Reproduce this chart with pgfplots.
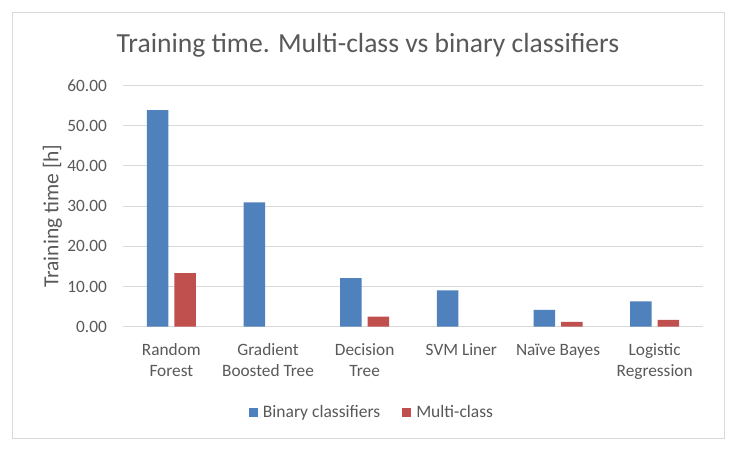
\documentclass[border=0pt]{standalone}
\usepackage{pgfplots}
\pgfplotsset{compat=1.18}
\usepackage{fontspec}
\setmainfont{Carlito}
\definecolor{cblue}{HTML}{4F81BD}
\definecolor{cred}{HTML}{C0504D}
\definecolor{ctext}{HTML}{595959}
\definecolor{cgrid}{HTML}{D9D9D9}
\begin{document}
\begin{tikzpicture}[x=1pt,y=1pt]
\fill[white] (0,0) rectangle (736,451);
\draw[cgrid, line width=1pt] (12,12.5) rectangle (724,438.3);
\begin{axis}[
  at={(123pt,124.3pt)}, anchor=south west,
  scale only axis, width=580pt, height=241.4pt,
  xmin=-0.5, xmax=5.5, ymin=0, ymax=60,
  ybar=6pt, bar width=21.5pt,
  xtick={0,1,2,3,4,5},
  xticklabels={{Random\\Forest},{Gradient\\Boosted Tree},{Decision\\Tree},{SVM Liner},{Naïve Bayes},{Logistic\\Regression}},
  ytick={0,10,20,30,40,50,60},
  ymajorgrids, grid style={cgrid, line width=0.9pt},
  axis line style={draw=none},
  major tick length=0pt, tick style={draw=none},
  /pgf/number format/assume math mode=true,
  yticklabel={\pgfmathprintnumber[fixed,fixed zerofill,precision=2]{\tick}},
  yticklabel style={anchor=east, inner sep=0pt, xshift=-16pt, font=\fontsize{17.3}{20}\selectfont, text=ctext},
  xticklabel style={anchor=north, align=center, inner sep=0pt, yshift=-17pt, font=\fontsize{17.3}{21}\selectfont, text=ctext},
  ylabel={Training time [h]},
  ylabel style={at={(axis description cs:-0.1216,0.4586)}, anchor=center, font=\fontsize{21.5}{24}\selectfont, text=ctext},
  title={Training time. Multi-class vs binary classifiers},
  title style={at={(axis description cs:0.4224,1.110)}, anchor=base, font=\fontsize{27.6}{32}\selectfont, text=ctext},
  legend columns=2,
  legend style={at={(axis description cs:0.4293,-0.3534)}, anchor=center, draw=none, fill=none,
    font=\fontsize{17.5}{20}\selectfont, text=ctext,
    /tikz/every even column/.append style={column sep=20pt}},
  legend image code/.code={\fill[#1] (0pt,-4.5pt) rectangle (9pt,4.5pt); \path (12pt,0pt);},
]
\addplot[fill=cblue, draw=none] coordinates {(0,53.8) (1,30.9) (2,12.1) (3,9.0) (4,4.2) (5,6.3)};
\addplot[fill=cred, draw=none] coordinates {(0,13.3) (2,2.5) (4,1.2) (5,1.7)};
\legend{Binary classifiers, Multi-class}
\end{axis}
\end{tikzpicture}
\end{document}
